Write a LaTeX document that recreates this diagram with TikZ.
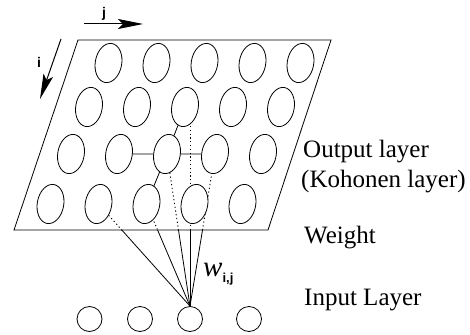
\documentclass[tikz,border=0pt]{standalone}
\usepackage{fontspec}
\setmainfont{Liberation Serif}
\newfontfamily\lsans{Liberation Sans}
\usetikzlibrary{shapes.geometric,arrows.meta,backgrounds}
\begin{document}
\begin{tikzpicture}[x=1pt,y=-1pt,
  cell/.style={ellipse,draw,fill=white,line width=0.8pt,inner sep=0pt,minimum width=26.5pt,minimum height=39.5pt,rotate=-10},
  inp/.style={circle,draw,fill=white,line width=0.8pt,inner sep=0pt,minimum size=25pt},
  link/.style={line width=0.8pt},
  hidden/.style={line width=0.9pt,dash pattern=on 1.2pt off 2.6pt},
  lbl/.style={font=\fontsize{25}{30}\selectfont,anchor=base west,inner sep=0pt},
  dirarrow/.style={line width=1pt,-{Stealth[length=25pt,width=10pt,inset=5pt]}},
  idx/.style={font=\lsans\bfseries\fontsize{14}{16}\selectfont,inner sep=0pt}]
\useasboundingbox (0,0) rectangle (470,334);
% plane
\draw[link] (78,40) -- (331,40) -- (268,230) -- (14,230) -- cycle;
% output cells
\foreach \r/\y/\x in {1/63/108.5,2/107/89,3/154/71,4/204/50.5}
  \foreach \c in {1,...,5}
    \node[cell] (e\r\c) at ({\x+48*(\c-1)},\y) {};
% input cells
\foreach \c/\x in {1/89.5,2/140,3/190,4/249}
  \node[inp] (in\c) at (\x,319) {};
% weights
\begin{pgfonlayer}{background}
  \begin{scope}
    \clip (0,0) rectangle (470,230);
    \draw[hidden] (e42.center) -- (in3.north);
    \draw[hidden] (e43.center) -- (in3.north);
    \draw[hidden] (e33.center) -- (in3.north);
    \draw[hidden] (e34.center) -- (in3.north);
    \draw[hidden] (in3.north |- e23.center) -- (in3.north);
  \end{scope}
  \begin{scope}
    \clip (0,230) rectangle (470,334);
    \draw[link] (e42.center) -- (in3.north);
    \draw[link] (e43.center) -- (in3.north);
    \draw[link] (e33.center) -- (in3.north);
    \draw[link] (e34.center) -- (in3.north);
    \draw[link] (in3.north |- e23.center) -- (in3.north);
  \end{scope}
\end{pgfonlayer}
% neighbourhood
\draw[link] (e32) -- (e33);
\draw[link] (e33) -- (e34);
\draw[link] (e33) -- (e23);
\draw[link] (e33) -- (e43);
% index arrows
\coordinate (jA) at (84,24);
\coordinate (jB) at (143,24);
\draw[dirarrow] (jA) -- (jB);
\node[idx] (jl) at (104,14) {j};
\coordinate (iA) at (61,39);
\coordinate (iB) at (40,99);
\draw[dirarrow] (iA) -- (iB);
\node[idx] (il) at (39,62) {i};
% labels
\node[anchor=base west,inner sep=0pt] (w) at (203,276) {\fontsize{29}{29}\selectfont\itshape w\lsans\upshape\bfseries\fontsize{13}{13}\selectfont\raisebox{-6pt}{i,j}};
\node[lbl] (out) at (303,157) {Output layer};
\node[lbl] (koh) at (301,187) {(Kohonen layer)};
\node[lbl] (wt) at (304,243) {Weight};
\node[lbl] (il2) at (304,305.5) {Input Layer};
\end{tikzpicture}
\end{document}
